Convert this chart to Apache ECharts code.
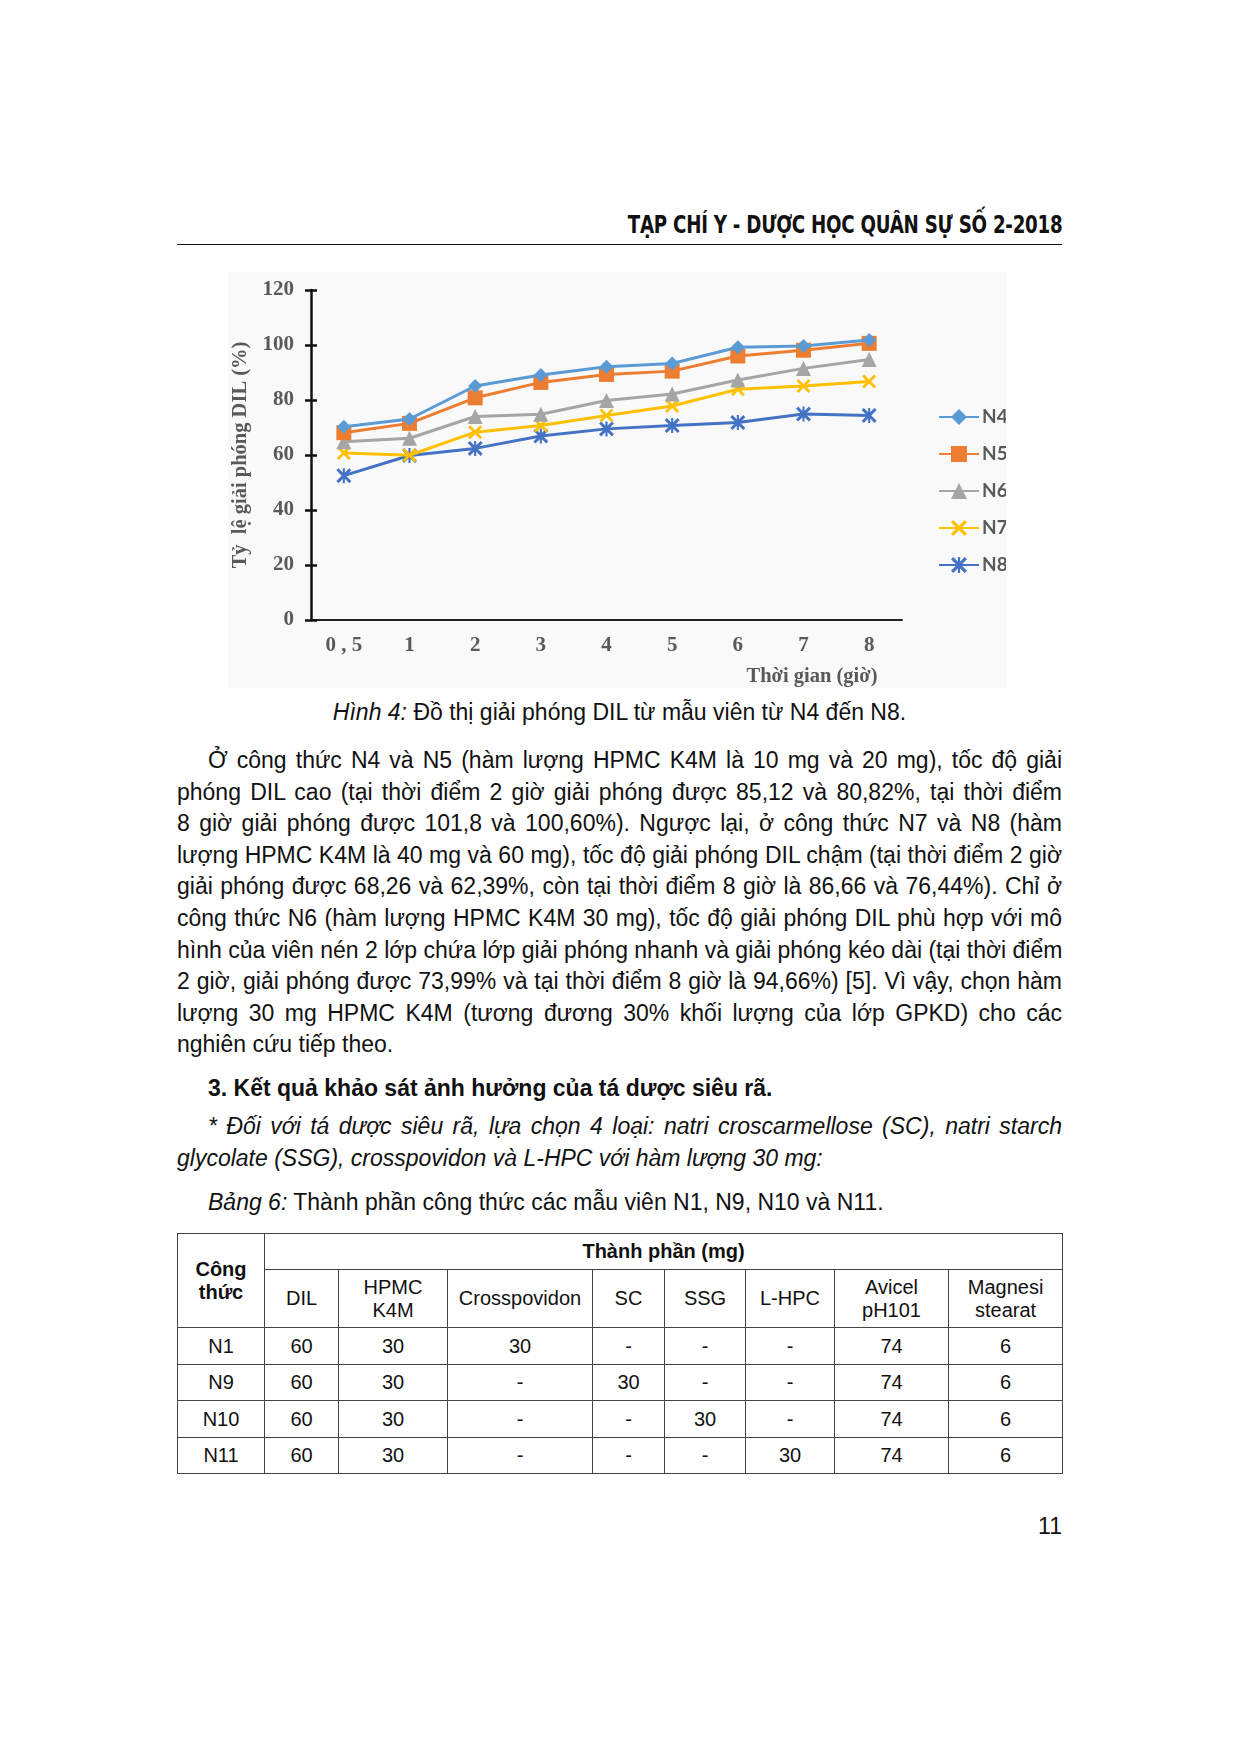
<!DOCTYPE html>
<html>
<head>
<meta charset="utf-8">
<script src="https://cdn.jsdelivr.net/npm/echarts@6/dist/echarts.min.js"></script>
<style>
  html, body { margin: 0; padding: 0; background: #fff; }
  body { width: 1239px; height: 1754px; position: relative; overflow: hidden; font-family: "Liberation Sans", Arial, sans-serif; color: #111; }
  .abs { position: absolute; }
  .hdr { right: 177px; top: 210px; height: 30px; line-height: 30px; font-family: "DejaVu Sans Condensed", "DejaVu Sans", sans-serif; font-weight: bold; font-size: 24px; letter-spacing: -0.3px; color: #111; transform: scaleX(0.845); transform-origin: 100% 50%; white-space: nowrap; }
  .rule { left: 177px; top: 244px; width: 885px; border-top: 1.6px solid #111; }
  .txt { left: 177px; width: 885px; font-size: 23px; }
  .ln { height: 31.6px; line-height: 31.6px; text-align: justify; text-align-last: justify; white-space: nowrap; }
  .ln.last { text-align-last: left; }
  .ind { padding-left: 31px; }
  table { border-collapse: collapse; table-layout: fixed; font-size: 20px; }
  td { border: 1.6px solid #444; text-align: center; vertical-align: middle; padding: 0; line-height: 23px; }
  #chart { left: 228px; top: 272px; width: 778px; height: 416px; background: #f9f9f9; }
</style>
</head>
<body>
<div class="abs hdr">TẠP CHÍ Y - DƯỢC HỌC QUÂN SỰ SỐ 2-2018</div>
<div class="abs rule"></div>
<div class="abs" id="chart"></div>

<div class="abs txt" style="top:696px;height:32px;line-height:32px;text-align:center;"><i>Hình 4:</i> Đồ thị giải phóng DIL từ mẫu viên từ N4 đến N8.</div>

<div class="abs txt" style="top:745px;">
  <div class="ln ind">Ở công thức N4 và N5 (hàm lượng HPMC K4M là 10 mg và 20 mg), tốc độ giải</div>
  <div class="ln">phóng DIL cao (tại thời điểm 2 giờ giải phóng được 85,12 và 80,82%, tại thời điểm</div>
  <div class="ln">8 giờ giải phóng được 101,8 và 100,60%). Ngược lại, ở công thức N7 và N8 (hàm</div>
  <div class="ln">lượng HPMC K4M là 40 mg và 60 mg), tốc độ giải phóng DIL chậm (tại thời điểm 2 giờ</div>
  <div class="ln">giải phóng được 68,26 và 62,39%, còn tại thời điểm 8 giờ là 86,66 và 76,44%). Chỉ ở</div>
  <div class="ln">công thức N6 (hàm lượng HPMC K4M 30 mg), tốc độ giải phóng DIL phù hợp với mô</div>
  <div class="ln">hình của viên nén 2 lớp chứa lớp giải phóng nhanh và giải phóng kéo dài (tại thời điểm</div>
  <div class="ln">2 giờ, giải phóng được 73,99% và tại thời điểm 8 giờ là 94,66%) [5]. Vì vậy, chọn hàm</div>
  <div class="ln">lượng 30 mg HPMC K4M (tương đương 30% khối lượng của lớp GPKD) cho các</div>
  <div class="ln last">nghiên cứu tiếp theo.</div>
</div>

<div class="abs txt" style="top:1072px;height:32px;line-height:32px;font-weight:bold;padding-left:31px;width:854px;">3. Kết quả khảo sát ảnh hưởng của tá dược siêu rã.</div>

<div class="abs txt" style="top:1111px;font-style:italic;">
  <div class="ln ind">* Đối với tá dược siêu rã, lựa chọn 4 loại: natri croscarmellose (SC), natri starch</div>
  <div class="ln last">glycolate (SSG), crosspovidon và L-HPC với hàm lượng 30 mg:</div>
</div>

<div class="abs txt" style="top:1186px;height:32px;line-height:32px;padding-left:31px;width:854px;"><i>Bảng 6:</i> Thành phần công thức các mẫu viên N1, N9, N10 và N11.</div>

<table class="abs" id="tbl" style="left:177px;top:1233px;width:885px;">
  <colgroup>
    <col style="width:87px"><col style="width:74px"><col style="width:109px"><col style="width:145px"><col style="width:72px"><col style="width:81px"><col style="width:89px"><col style="width:114px"><col style="width:114px">
  </colgroup>
  <tbody id="tbody"></tbody>
</table>

<div class="abs" style="right:177px;top:1510px;height:32px;line-height:32px;font-size:23px;">11</div>

<script>
// ---------- Chart data ----------
var categories = ['0,5', '1', '2', '3', '4', '5', '6', '7', '8'];
var seriesNames = ['N4', 'N5', 'N6', 'N7', 'N8'];
var n4 = [70.3, 73.1, 85.1, 89.1, 92.1, 93.3, 99.2, 99.6, 101.8];
var n5 = [68.1, 71.5, 80.8, 86.4, 89.3, 90.5, 96.0, 98.1, 100.6];
var n6 = [64.8, 66.1, 74.0, 74.8, 79.8, 82.2, 87.3, 91.5, 94.7];
var n7 = [60.7, 59.9, 68.3, 70.7, 74.4, 77.8, 83.9, 85.1, 86.7];
var n8 = [52.5, 59.8, 62.4, 66.9, 69.5, 70.7, 71.8, 74.9, 74.4];
var yTicks = [0, 20, 40, 60, 80, 100, 120];

// ---------- Table data ----------
var tableHead1 = ['Công thức', 'Thành phần (mg)'];
var tableHead2 = ['DIL', 'HPMC<br>K4M', 'Crosspovidon', 'SC', 'SSG', 'L-HPC', 'Avicel<br>pH101', 'Magnesi<br>stearat'];
var tableRows = [
  ['N1', '60', '30', '30', '-', '-', '-', '74', '6'],
  ['N9', '60', '30', '-', '30', '-', '-', '74', '6'],
  ['N10', '60', '30', '-', '-', '30', '-', '74', '6'],
  ['N11', '60', '30', '-', '-', '-', '30', '74', '6']
];

(function buildTable() {
  var tb = document.getElementById('tbody');
  var h = '<tr style="height:36px"><td rowspan="2" style="font-weight:bold">Công<br>thức</td><td colspan="8" style="font-weight:bold">' + tableHead1[1] + '</td></tr>';
  h += '<tr style="height:58px">' + tableHead2.map(function (t) { return '<td>' + t + '</td>'; }).join('') + '</tr>';
  var rh = [37, 36, 37, 36];
  tableRows.forEach(function (r, i) {
    h += '<tr style="height:' + rh[i] + 'px">' + r.map(function (c) { return '<td>' + c + '</td>'; }).join('') + '</tr>';
  });
  tb.innerHTML = h;
})();

var colors = ['#5B9BD5', '#ED7D31', '#A5A5A5', '#FFC000', '#4472C4'];
var xPath = 'path://M0,1.4 L1.4,0 L5,3.6 L8.6,0 L10,1.4 L6.4,5 L10,8.6 L8.6,10 L5,6.4 L1.4,10 L0,8.6 L3.6,5 Z';
var starPath = 'path://M0,1.4 L1.4,0 L5,3.6 L8.6,0 L10,1.4 L6.4,5 L10,8.6 L8.6,10 L5,6.4 L1.4,10 L0,8.6 L3.6,5 Z M4.3,0 L5.7,0 L5.7,10 L4.3,10 Z';
var symbols = ['diamond', 'rect', 'triangle', xPath, starPath];
var sizes = [14, 15, 15, 14, 15];
var data = [n4, n5, n6, n7, n8];

var serif = '"Liberation Serif", "Times New Roman", serif';
var gray = '#595959';

var chart = echarts.init(document.getElementById('chart'));
var series = seriesNames.map(function (name, i) {
  return {
    name: name,
    type: 'line',
    data: data[i],
    symbol: symbols[i],
    symbolSize: sizes[i],
    showAllSymbol: true,
    xAxisIndex: 0,
    yAxisIndex: 0,
    lineStyle: { width: 3, color: colors[i] },
    itemStyle: { color: colors[i] },
    z: 10 - i
  };
});

chart.setOption({
  animation: false,
  grid: { left: 83, right: 104, top: 18, bottom: 68, containLabel: false, outerBoundsMode: 'none' },
  legend: {
    orient: 'vertical',
    left: 705,
    top: 129,
    itemWidth: 40,
    itemHeight: 20,
    itemGap: 15,
    data: seriesNames,
    textStyle: { fontFamily: 'Lato, "Open Sans", sans-serif', fontWeight: 'bold', fontSize: 19, lineHeight: 22, color: gray, padding: [0, 0, 0, -2] }
  },
  xAxis: [{
    type: 'category',
    data: categories,
    boundaryGap: true,
    axisLine: { lineStyle: { color: '#222', width: 2 } },
    axisTick: { alignWithLabel: true, length: 5, lineStyle: { color: '#222', width: 2 } },
    axisLabel: {
      margin: 15,
      fontFamily: serif, fontWeight: 'bold', fontSize: 21, color: gray,
      formatter: function (v) { return v.replace(',', ' , '); }
    },
    splitLine: { show: false }
  }, {
    type: 'category',
    data: categories,
    position: 'bottom',
    boundaryGap: true,
    axisLine: { show: false },
    axisTick: { alignWithLabel: true, inside: true, length: 5, lineStyle: { color: '#222', width: 2 } },
    axisLabel: { show: false }
  }],
  yAxis: [{
    type: 'value',
    min: 0, max: 120, interval: 20,
    name: 'Tỷ  lệ giải phóng DIL (%)',
    nameLocation: 'middle',
    nameGap: 53,
    nameRotate: 90,
    nameTextStyle: { fontFamily: serif, fontWeight: 'bold', fontSize: 20.5, color: gray },
    axisLine: { show: true, lineStyle: { color: '#111', width: 2.5 } },
    axisTick: { show: true, length: 6, lineStyle: { color: '#111', width: 2.5 } },
    axisLabel: { margin: 17, fontFamily: serif, fontWeight: 'bold', fontSize: 21, color: gray },
    splitLine: { show: false }
  }, {
    type: 'value',
    min: 0, max: 120, interval: 20,
    position: 'left',
    axisLine: { show: false },
    axisTick: { show: true, inside: true, length: 6, lineStyle: { color: '#111', width: 2.5 } },
    axisLabel: { show: false },
    splitLine: { show: false }
  }],
  graphic: [{
    type: 'text',
    x: 584, y: 405,
    style: {
      text: 'Thời gian (giờ)',
      fontFamily: serif, fontWeight: 'bold', fontSize: 20.5, fill: gray,
      textAlign: 'center', textVerticalAlign: 'middle'
    }
  }],
  series: series
});
</script>
</body>
</html>
